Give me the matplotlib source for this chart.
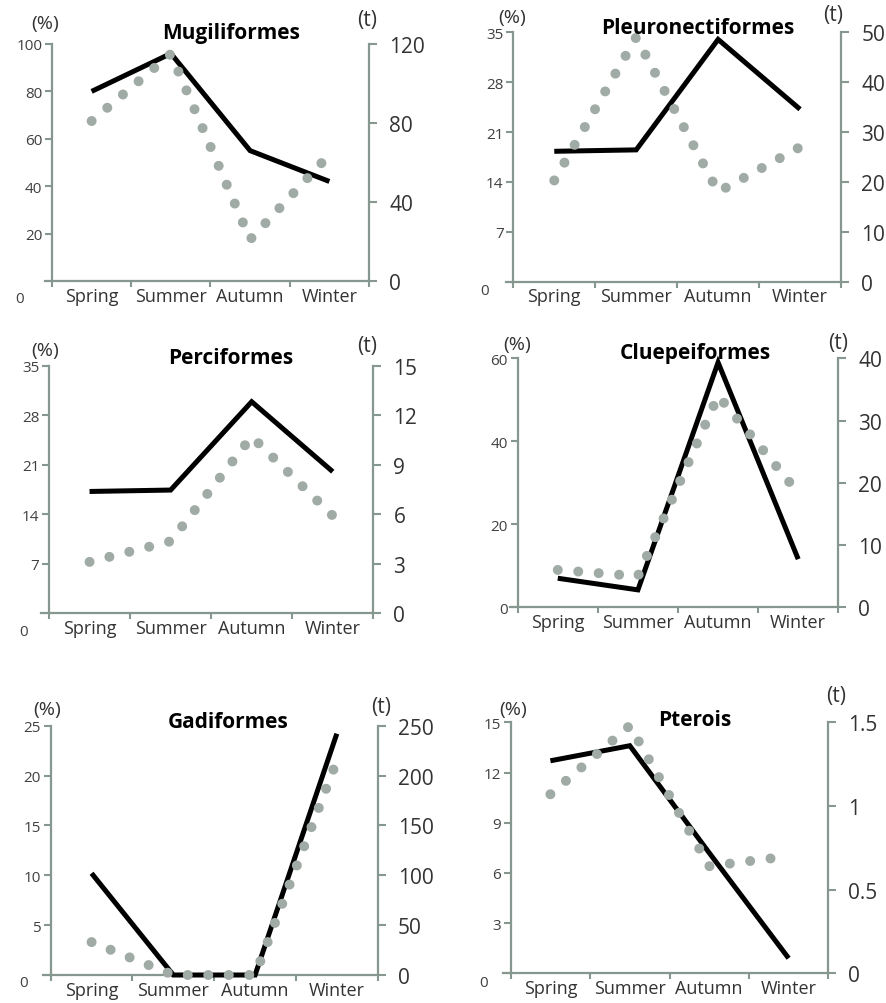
import matplotlib
matplotlib.use("Agg")
import matplotlib.pyplot as plt

plt.rcParams['font.family'] = ['Open Sans', 'DejaVu Sans']

W, H = 887, 1004

seasons = ['Spring', 'Summer', 'Autumn', 'Winter']

titles = ['Mugiliformes', 'Pleuronectiformes', 'Perciformes',
          'Cluepeiformes', 'Gadiformes', 'Pterois']

mugil_pct = [80, 96, 55, 42]
mugil_t = [81, 115, 21, 64]
pleuro_pct = [18.3, 18.5, 34.0, 24.2]
pleuro_t = [20.3, 49, 18, 27]
perci_pct = [17.2, 17.4, 29.9, 20.0]
perci_t = [3.1, 4.35, 10.7, 5.9]
clupe_pct = [7.0, 4.2, 59.0, 11.6]
clupe_t = [6.0, 5.0, 34, 18.4]
gadi_pct = [10.2, 0, 0, 24.2]
gadi_t = [33, 0, 0, 215]
pter_pct = [12.7, 13.6, 7.2, 0.9]
pter_t = [1.07, 1.48, 0.64, 0.70]

pct_ticks = [[20, 40, 60, 80, 100], [7, 14, 21, 28, 35], [7, 14, 21, 28, 35],
             [0, 20, 40, 60], [5, 10, 15, 20, 25], [3, 6, 9, 12, 15]]
t_ticks = [[0, 40, 80, 120], [0, 10, 20, 30, 40, 50], [0, 3, 6, 9, 12, 15],
           [0, 10, 20, 30, 40], [0, 50, 100, 150, 200, 250], [0, 0.5, 1, 1.5]]
t_labels = [None, None, None, None, None, ['0', '0.5', '1', '1.5']]

pct_series = [mugil_pct, pleuro_pct, perci_pct, clupe_pct, gadi_pct, pter_pct]
t_series = [mugil_t, pleuro_t, perci_t, clupe_t, gadi_t, pter_t]

# layout (pixels): left spine, right spine, top, bottom
boxes = [(52, 369, 45, 282), (513.3, 841, 33.3, 282.7), (49, 373.3, 366.7, 614),
         (517.7, 838.3, 359.3, 608.3), (50.7, 377.7, 726.7, 976), (510.7, 828.3, 723.3, 974.3)]
title_pos = [(231, 33), (698, 29), (231, 358), (695, 354), (228, 722), (695, 721)]
pct_pos = [(45, 24), (511.7, 18.3), (45, 350.7), (516.7, 345), (46.7, 710), (513.3, 710)]
tt_pos = [(366.7, 20.7), (833.3, 16), (366.7, 346.7), (838.3, 343.3), (381, 707.7), (835.7, 696.7)]
zero_pos = [(20, 300), (485, 291.7), (24, 632.7), None, (23.3, 983.3), (484, 983.3)]

spine_c = '#85978f'
dot_c = '#a0aba6'
txt_c = '#333333'

fig = plt.figure(figsize=(W / 100, H / 100), dpi=100)


def fx(x):
    return x / W


def fy(y):
    return 1 - y / H


x_centers = [0.5, 1.5, 2.5, 3.5]

for i in range(6):
    L, R, T, B = boxes[i]
    unit = (R - L) / 4
    ext = 7.5 / unit
    axL = L - 7.5
    ax = fig.add_axes([fx(axL), fy(B), (R - axL) / W, (B - T) / H])
    ax.set_xlim(-ext, 4)
    ax.set_ylim(0, pct_ticks[i][-1])
    ax2 = ax.twinx()
    ax2.set_ylim(0, t_ticks[i][-1])

    ax.plot(x_centers, pct_series[i], color='black', lw=3.6,
            solid_capstyle='butt', solid_joinstyle='miter', clip_on=False, zorder=3)
    ax2.plot(x_centers, t_series[i], color=dot_c, lw=7.2,
             linestyle=(0, (0.001, 2.05)), dash_capstyle='round', clip_on=False, zorder=3)

    for s in ['top', 'right']:
        ax.spines[s].set_visible(False)
    for s in ['top', 'left', 'bottom']:
        ax2.spines[s].set_visible(False)
    ax.spines['left'].set_position(('data', 0))
    for sp in [ax.spines['left'], ax.spines['bottom'], ax2.spines['right']]:
        sp.set_color(spine_c)
        sp.set_linewidth(1.6)

    ax.set_xticks([0, 1, 2, 3, 4])
    ax.set_xticklabels([])
    ax.set_xticks(x_centers, seasons, minor=True)
    ax.tick_params(axis='x', which='major', direction='out', length=4,
                   width=1.5, color=spine_c)
    ax.tick_params(axis='x', which='minor', length=0, pad=4,
                   labelsize=13, labelcolor=txt_c)

    ax.set_yticks(pct_ticks[i])
    ax.tick_params(axis='y', direction='out', length=5, width=1.5,
                   color=spine_c, labelsize=11, labelcolor='#404040', pad=2)
    ax2.set_yticks(t_ticks[i])
    if t_labels[i] is not None:
        ax2.set_yticklabels(t_labels[i])
    ax2.tick_params(axis='y', direction='out', length=5.5, width=1.5,
                    color=spine_c, labelsize=15, labelcolor=txt_c, pad=9)

    fig.text(fx(title_pos[i][0]), fy(title_pos[i][1]), titles[i], ha='center',
             va='center', fontsize=15, fontweight='bold', color='black')
    fig.text(fx(pct_pos[i][0]), fy(pct_pos[i][1]), '(%)', ha='center',
             va='center', fontsize=14, color=txt_c)
    fig.text(fx(tt_pos[i][0]), fy(tt_pos[i][1]), '(t)', ha='center',
             va='center', fontsize=15, color=txt_c)
    if zero_pos[i] is not None:
        fig.text(fx(zero_pos[i][0]), fy(zero_pos[i][1]), '0', ha='center',
                 va='center', fontsize=11, color='#404040')

fig.savefig('out.png', dpi=100)
